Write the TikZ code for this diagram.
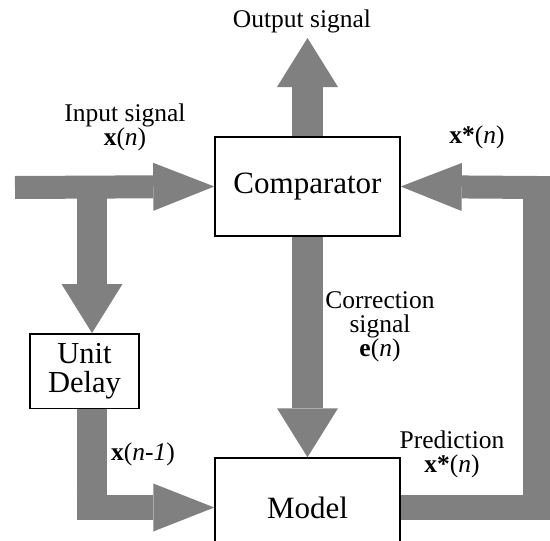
\documentclass[tikz,border=0pt]{standalone}
\usepackage{fontspec}
\setmainfont{Liberation Serif}
\usetikzlibrary{arrows.meta}
\definecolor{pipe}{RGB}{128,128,128}
\begin{document}
\begin{tikzpicture}[x=1pt,y=-1pt,
  box/.style={draw=black,line width=1.5pt,rectangle,minimum width=185pt,minimum height=99pt,inner sep=0pt,fill=white,font=\fontsize{31}{30}\selectfont},
  lab/.style={inner sep=0pt,align=center,font=\fontsize{25.5}{24}\selectfont},
  shaft/.style={draw=pipe,line width=#1},
  htip/.style={-{Triangle[length=61pt,width=48pt,line width=0pt]}},
  vtip/.style={-{Triangle[length=49pt,width=61pt,line width=0pt]}}]
\useasboundingbox[fill=white] (0,0) rectangle (550,541);
\begin{scope}
\clip (0,0) rectangle (550,541);
% boxes
\node[box] (comp) at (307.5,186.5) {Comparator};
\node[box,minimum width=109pt,minimum height=74.5pt,align=center,font=\fontsize{30.5}{29}\selectfont] (delay) at (84.5,371) {Unit\\Delay};
\node[box] (model) at (307.5,507.5) {Model};
% free ends
\coordinate (inS) at (15,187.5);
\coordinate (outE) at (307.5,38);
\coordinate (br) at (92,176);
\coordinate (dk) at (92,520);
\coordinate (dh) at (76.5,507.5);
\coordinate (fb1) at (550,507.5);
\coordinate (fv1) at (537,520);
\coordinate (fv2) at (537,176);
\coordinate (fh) at (537,187.5);
% connectors
\draw[shaft=23pt,htip] (inS) -- (comp.west);
\draw[shaft=31pt,vtip] (comp.north) -- (outE);
\draw[shaft=31pt,vtip] (comp.south) -- (model.north);
\draw[shaft=30pt,vtip] (br) -- (br |- delay.north);
\draw[shaft=30pt] (delay.south -| dk) -- (dk);
\draw[shaft=25pt,htip] (dh) -- (model.west);
\draw[shaft=25.5pt] (model.east) -- (fb1);
\draw[shaft=28pt] (fv1) -- (fv2);
\draw[shaft=23pt,htip] (fh) -- (comp.east);
% labels
\node[lab] (outlab) at (302,21) {Output signal};
\node[lab] (inlab) at (125,127) {Input signal\\\textbf{x}(\textit{n})};
\node[lab] (xstar) at (477,137) {\textbf{x*}(\textit{n})};
\node[lab] (corr) at (380,327) {Correction\\signal\\\textbf{e}(\textit{n})};
\node[lab,anchor=west] (xn1) at (111,454) {\textbf{x}(\textit{n-1})};
\node[lab] (pred) at (452,454) {Prediction\\\textbf{x*}(\textit{n})};
\end{scope}
\end{tikzpicture}
\end{document}
